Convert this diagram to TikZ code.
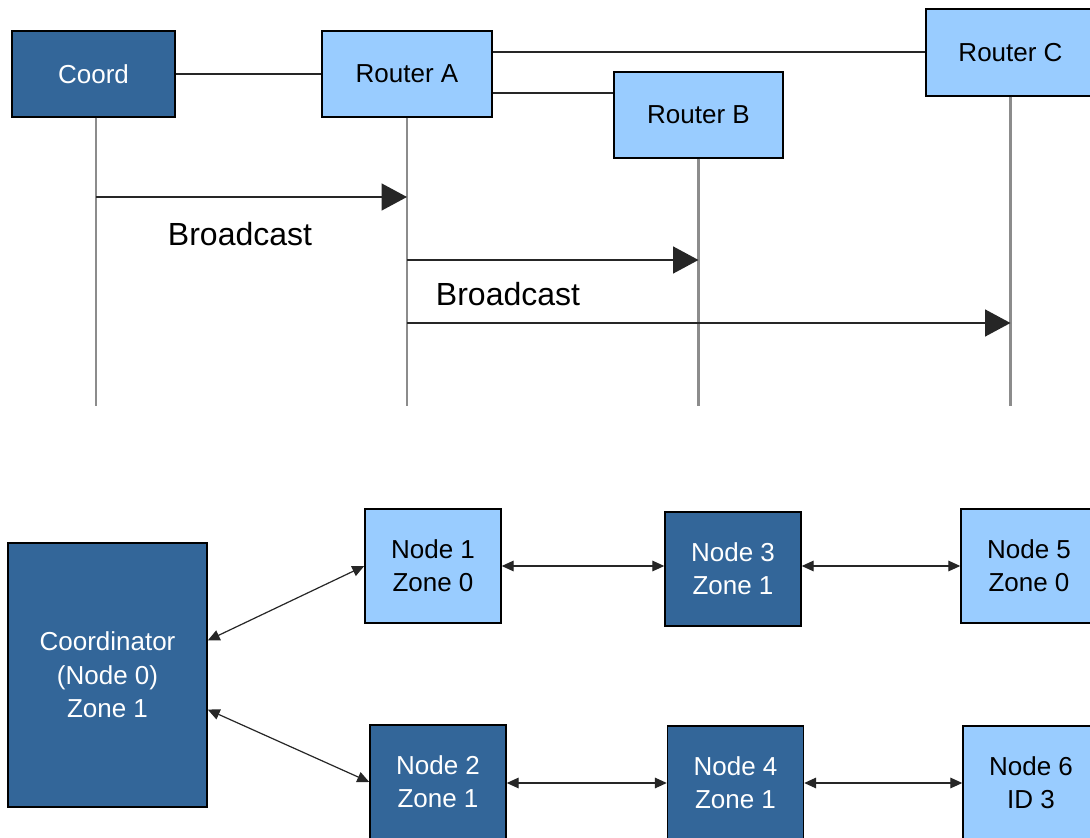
\documentclass[tikz,border=0pt]{standalone}
\usepackage{fontspec}
\setmainfont{Liberation Sans}
\usepackage{tikz}
\usetikzlibrary{arrows.meta}
\definecolor{zbdark}{HTML}{336699}
\definecolor{zblight}{HTML}{99CCFF}
\tikzstyle{darkbox}=[
        draw=black,
        line width=1.1pt,
        fill=zbdark,
        text=white,
        inner sep=0pt,
        align=center,
        font=\fontsize{19.5}{25}\selectfont
]
\tikzstyle{lightbox}=[
        darkbox,
        fill=zblight,
        text=black
]
\tikzstyle{lifeline}=[
        draw=black!45,
        line width=1.6pt
]
\tikzstyle{link}=[
        draw=black!85,
        line width=1.5pt
]
\tikzstyle{msg}=[
        draw=black!85,
        line width=1.6pt,
        -{Triangle[length=19pt,width=20pt]}
]
\tikzstyle{peer}=[
        draw=black!85,
        line width=0.9pt,
        {Triangle[length=9pt,width=8pt]}-{Triangle[length=9pt,width=8pt]}
]
\tikzstyle{msglabel}=[
        font=\fontsize{24}{28}\selectfont
]

\begin{document}
\begin{tikzpicture}[x=0.75pt,y=-0.75pt]
                        \clip (0,0) rectangle (1090,838);
                        \fill[white] (0,0) rectangle (1090,838);

                        \node[darkbox, minimum width=122.25pt, minimum height=64.5pt] (coord) at (93.5,74) {Coord};
                        \node[lightbox, minimum width=127.5pt, minimum height=64.5pt] (routera) at (407,74) {Router A};
                        \node[lightbox, minimum width=126.75pt, minimum height=64.5pt] (routerb) at (698.5,115) {Router B};
                        \node[lightbox, minimum width=126.75pt, minimum height=65.25pt] (routerc) at (1010.5,52.5) {Router C};

                        \coordinate (ab) at (0,93);
                        \coordinate (foot) at (0,406);
                        \coordinate (t1) at (0,197);
                        \coordinate (t2) at (0,260);
                        \coordinate (t3) at (0,323);
                        \coordinate (cl) at (96,0);

                        \draw[link] (coord) -- (routera);
                        \draw[link] (routera.east |- routerc.west) -- (routerc.west);
                        \draw[link] (routera.east |- ab) -- (routerb.west |- ab);

                        \draw[lifeline] (coord.south -| cl) -- (cl |- foot);
                        \draw[lifeline] (routera.south) -- (routera.south |- foot);
                        \draw[lifeline] (routerb.south) -- (routerb.south |- foot);
                        \draw[lifeline] (routerc.south) -- (routerc.south |- foot);

                        \draw[msg] (cl |- t1) -- (routera.south |- t1);
                        \draw[msg] (routera.south |- t2) -- (routerb.south |- t2);
                        \draw[msg] (routera.south |- t3) -- (routerc.south |- t3);

                        \node[msglabel] (bc1) at (240,234) {Broadcast};
                        \node[msglabel] (bc2) at (508,294) {Broadcast};

                        \node[darkbox, minimum width=149.25pt, minimum height=198pt] (coordinator) at (107.5,675) {Coordinator\\(Node 0)\\Zone 1};
                        \node[lightbox, minimum width=102pt, minimum height=85.5pt] (n1) at (433,566) {Node 1\\Zone 0};
                        \node[darkbox, minimum width=102pt, minimum height=85.5pt] (n3) at (733,569) {Node 3\\Zone 1};
                        \node[lightbox, minimum width=102pt, minimum height=85.5pt] (n5) at (1029,566) {Node 5\\Zone 0};
                        \node[darkbox, minimum width=102pt, minimum height=85.5pt] (n2) at (438,782) {Node 2\\Zone 1};
                        \node[darkbox, minimum width=102pt, minimum height=85.5pt] (n4) at (735.5,783) {Node 4\\Zone 1};
                        \node[lightbox, minimum width=102pt, minimum height=85.5pt] (n6) at (1031,783) {Node 6\\ID 3};

                        \draw[peer] (coordinator.19) -- (n1.west);
                        \draw[peer] (coordinator.-19) -- (n2.west);
                        \draw[peer] (n1.east) -- (n1.east -| n3.west);
                        \draw[peer] (n3.east |- n1.east) -- (n5.west);
                        \draw[peer] (n2.east |- n4.west) -- (n4.west);
                        \draw[peer] (n4.east) -- (n6.west);

                    \end{tikzpicture}
\end{document}
